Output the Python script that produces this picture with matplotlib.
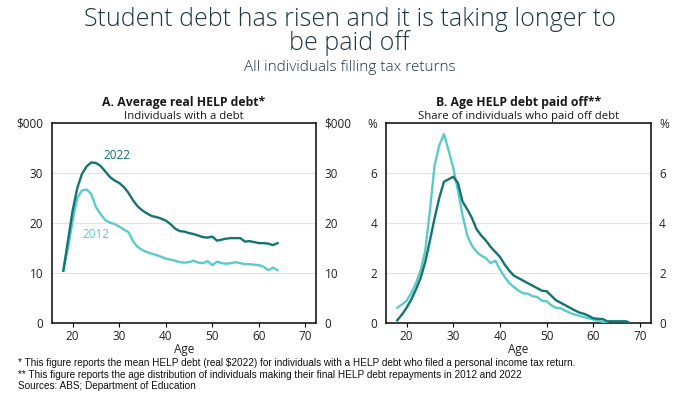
import matplotlib
matplotlib.use("Agg")
import matplotlib.pyplot as plt
import numpy as np

# Panel A: average real HELP debt ($000) by age
ages_a = list(range(18, 65))
debt_2022 = [10.5, 16.5, 22.5, 27.0, 29.8, 31.3, 32.1, 32.0, 31.4, 30.3,
             29.2, 28.5, 28.0, 27.2, 26.0, 24.5, 23.3, 22.5, 21.9, 21.4,
             21.2, 20.9, 20.5, 19.8, 18.9, 18.4, 18.3, 18.0, 17.8, 17.5,
             17.2, 17.1, 17.3, 16.5, 16.7, 16.9, 17.0, 17.0, 17.0, 16.3,
             16.4, 16.2, 16.0, 16.0, 15.9, 15.6, 16.0]
debt_2012 = [10.5, 15.0, 20.5, 25.0, 26.5, 26.7, 25.8, 23.2, 21.8, 20.6,
             20.1, 19.8, 19.3, 18.7, 18.2, 16.3, 15.2, 14.6, 14.2, 13.9,
             13.6, 13.3, 12.9, 12.7, 12.5, 12.2, 12.1, 12.2, 12.5, 12.1,
             12.0, 12.4, 11.6, 12.3, 12.0, 11.9, 12.0, 12.2, 12.0, 11.8,
             11.8, 11.7, 11.6, 11.3, 10.6, 11.1, 10.6]

# Panel B: share of individuals who paid off debt (%) by age
ages_b_2022 = list(range(18, 69))
paid_2022 = [0.12, 0.35, 0.62, 0.95, 1.35, 1.8, 2.45, 3.3, 4.2, 5.0,
             5.65, 5.75, 5.85, 5.6, 4.85, 4.55, 4.2, 3.75, 3.5, 3.3,
             3.05, 2.85, 2.65, 2.35, 2.1, 1.9, 1.8, 1.7, 1.6, 1.5,
             1.4, 1.3, 1.28, 1.1, 0.92, 0.82, 0.72, 0.62, 0.52, 0.43,
             0.38, 0.3, 0.2, 0.18, 0.17, 0.08, 0.08, 0.08, 0.08, 0.08,
             0.0]
ages_b_2012 = list(range(18, 64))
paid_2012 = [0.62, 0.75, 0.9, 1.2, 1.6, 2.1, 2.9, 4.5, 6.3, 7.1,
             7.55, 6.9, 6.2, 5.3, 4.3, 3.5, 3.1, 2.85, 2.7, 2.6,
             2.4, 2.5, 2.15, 1.85, 1.6, 1.45, 1.3, 1.2, 1.18, 1.08,
             1.05, 0.9, 0.88, 0.72, 0.62, 0.6, 0.5, 0.42, 0.35, 0.3,
             0.25, 0.2, 0.15, 0.1, 0.06, 0.02]

x_ticks = [20, 30, 40, 50, 60, 70]
ticks_a = [0, 10, 20, 30, 40]
labels_a = ["0", "10", "20", "30", "$000"]
ticks_b = [0, 2, 4, 6, 8]
labels_b = ["0", "2", "4", "6", "%"]

DARK = "#13756e"
LIGHT = "#5ccaca"
TEXT = "#1f3540"
AXFONT = ["Open Sans", "DejaVu Sans"]

fig = plt.figure(figsize=(6.8, 3.95), dpi=100)
fig.patch.set_facecolor("white")

ax_a = fig.add_axes([0.076, 0.1815, 0.389, 0.5075])
ax_b = fig.add_axes([0.567, 0.1815, 0.390, 0.5075])


def style_axes(ax, yticks, ylabels, ymax):
    ax.set_xlim(15.5, 72.3)
    ax.set_ylim(0, ymax)
    ax.set_xticks(x_ticks)
    ax.set_yticks(yticks)
    ax.set_yticklabels(ylabels)
    ax.grid(axis="y", color="#e4e4e4", linewidth=0.9)
    ax.set_axisbelow(True)
    for s in ax.spines.values():
        s.set_color("#1a1a1a")
        s.set_linewidth(1.2)
    ax.tick_params(axis="y", length=0, labelright=True, pad=6,
                   labelsize=8.5, labelcolor="#222222")
    ax.tick_params(axis="x", length=3, width=0.8, labelsize=8.5,
                   labelcolor="#222222", pad=1.5)
    for lab in ax.get_xticklabels():
        lab.set_family(AXFONT)
    for t in ax.yaxis.get_major_ticks():
        t.label1.set_family(AXFONT)
        t.label2.set_family(AXFONT)
    ax.set_xlabel("Age", fontsize=8.5, family=AXFONT, color="#222222",
                  labelpad=0)


ax_a.plot(ages_a, debt_2012, color=LIGHT, linewidth=1.7, zorder=3)
ax_a.plot(ages_a, debt_2022, color=DARK, linewidth=1.7, zorder=4)
style_axes(ax_a, ticks_a, labels_a, 40)
ax_a.text(29.6, 33.5, "2022", color=DARK, fontsize=8.5, family=AXFONT,
          ha="center", va="center")
ax_a.text(25.0, 17.8, "2012", color=LIGHT, fontsize=8.5, family=AXFONT,
          ha="center", va="center")

ax_b.plot(ages_b_2012, paid_2012, color=LIGHT, linewidth=1.7, zorder=3)
ax_b.plot(ages_b_2022, paid_2022, color=DARK, linewidth=1.7, zorder=4)
style_axes(ax_b, ticks_b, labels_b, 8)

# panel headings
for ax, head, sub in [(ax_a, "A. Average real HELP debt*",
                       "Individuals with a debt"),
                      (ax_b, "B. Age HELP debt paid off**",
                       "Share of individuals who paid off debt")]:
    ax.text(0.5, 1.1, head, transform=ax.transAxes, ha="center",
            va="center", fontsize=8.8, fontweight="bold", family=AXFONT,
            color="#1a1a1a")
    ax.text(0.5, 1.03, sub, transform=ax.transAxes, ha="center",
            va="center", fontsize=8.2, family=AXFONT, color="#1a1a1a")

fig.text(0.514, 0.935, "Student debt has risen and it is taking longer to",
         ha="center", va="baseline", fontsize=18, color=TEXT,
         fontweight="light", family=["Open Sans", "DejaVu Sans"])
fig.text(0.514, 0.873, "be paid off", ha="center", va="baseline",
         fontsize=18, color=TEXT, fontweight="light",
         family=["Open Sans", "DejaVu Sans"])
fig.text(0.514, 0.82, "All individuals filling tax returns", ha="center",
         va="baseline", fontsize=11, color=TEXT, fontweight="light",
         family=["Open Sans", "DejaVu Sans"])

notes = [
    "* This figure reports the mean HELP debt (real $2022) for individuals "
    "with a HELP debt who filed a personal income tax return.",
    "** This figure reports the age distribution of individuals making their "
    "final HELP debt repayments in 2012 and 2022",
    "Sources: ABS; Department of Education",
]
for i, note in enumerate(notes):
    fig.text(0.026, 0.073 - i * 0.029, note, ha="left", va="baseline",
             fontsize=7.2, color="#111111",
             family=["Liberation Sans", "DejaVu Sans"])

fig.savefig("out.png", dpi=100, facecolor="white")
